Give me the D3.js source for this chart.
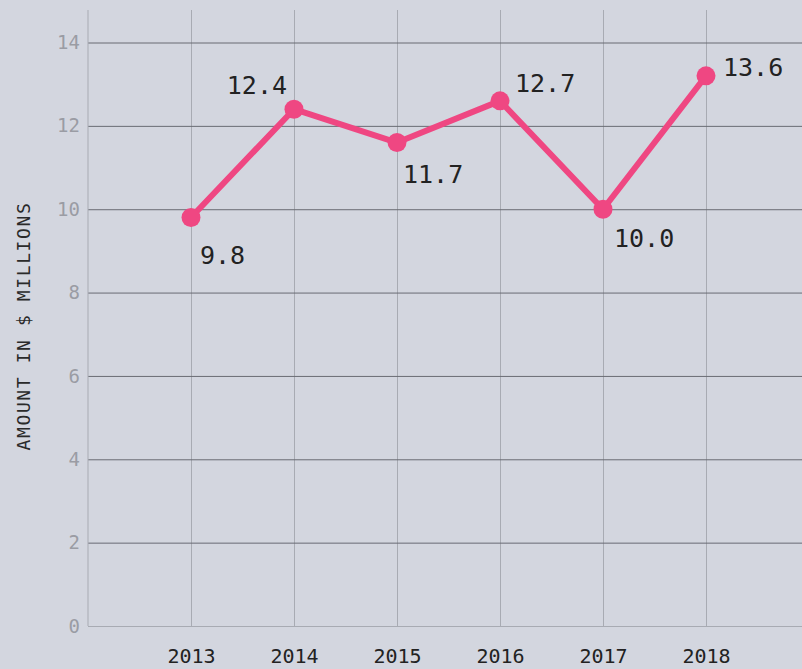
<!DOCTYPE html>
<html>
<head>
<meta charset="utf-8">
<script src="https://cdnjs.cloudflare.com/ajax/libs/d3/7.8.5/d3.min.js"></script>
<style>
  html, body { margin: 0; padding: 0; background: #d3d6df; }
  svg { display: block; font-family: "DejaVu Sans Mono", "Liberation Mono", monospace; }
</style>
</head>
<body>
<div id="vis"></div>
<script>
// chart data
const years = [2013, 2014, 2015, 2016, 2017, 2018];
const amounts = [9.8, 12.4, 11.6, 12.6, 10.0, 13.2];
const valueLabels = ["9.8", "12.4", "11.7", "12.7", "10.0", "13.6"];
const yTicks = [0, 2, 4, 6, 8, 10, 12, 14];
const yTitle = "AMOUNT IN $ MILLIONS";

const width = 802, height = 669;
const plotLeft = 88, plotBottom = 626, plotTop = 10;
const monoFont = "'DejaVu Sans Mono', 'Liberation Mono', monospace";

// where each value label sits relative to its point
const labelPlacement = [
  {dx: 9, dy: 46, anchor: "start"},
  {dx: -7, dy: -15, anchor: "end"},
  {dx: 6, dy: 40, anchor: "start"},
  {dx: 15, dy: -9, anchor: "start"},
  {dx: 11, dy: 38, anchor: "start"},
  {dx: 17, dy: 0, anchor: "start"}
];

const svg = d3.select("#vis")
  .append("svg")
  .attr("width", width)
  .attr("height", height);

const x = d3.scaleLinear().domain([2012, 2019]).range([plotLeft, plotLeft + 7 * 103]);
const y = d3.scaleLinear().domain([0, 14.78]).range([plotBottom, plotTop]);

// vertical grid (x axis)
const xAxis = svg.append("g")
  .attr("transform", `translate(0,${plotBottom})`)
  .call(d3.axisBottom(x).tickValues(years).tickFormat(d3.format("d")).tickSize(-(plotBottom - plotTop)).tickPadding(0));
xAxis.attr("font-family", monoFont);
xAxis.select(".domain").remove();
xAxis.selectAll(".tick line").attr("stroke", "#a8abb3").attr("stroke-width", 1);
xAxis.selectAll(".tick text")
  .attr("y", 37)
  .attr("dy", 0)
  .attr("fill", "#222")
  .style("font-size", "20px");

// horizontal grid (y axis)
const yAxis = svg.append("g")
  .attr("transform", `translate(${plotLeft},0)`)
  .call(d3.axisLeft(y).tickValues(yTicks).tickSize(-(width - plotLeft)).tickPadding(8));
yAxis.attr("font-family", monoFont);
yAxis.select(".domain").remove();
yAxis.selectAll(".tick line")
  .attr("stroke", d => d === 0 ? "#a8abb3" : "#696b73")
  .attr("stroke-width", 1);
yAxis.selectAll(".tick text")
  .attr("fill", "#9a9ca4")
  .style("font-size", "19px");

// left axis line
svg.append("line")
  .attr("x1", plotLeft).attr("x2", plotLeft)
  .attr("y1", plotTop).attr("y2", plotBottom)
  .attr("stroke", "#a8abb3");

// axis title
svg.append("text")
  .attr("transform", `translate(30,${(200 + 452) / 2}) rotate(-90)`)
  .attr("text-anchor", "middle")
  .attr("fill", "#2a2a2a")
  .style("font-size", "18px")
  .style("letter-spacing", "1.6px")
  .text(yTitle);

// line
const line = d3.line()
  .x((d, i) => x(years[i]))
  .y(d => y(d));

svg.append("path")
  .datum(amounts)
  .attr("fill", "none")
  .attr("stroke", "#ef4782")
  .attr("stroke-width", 6)
  .attr("stroke-linejoin", "round")
  .attr("d", line);

svg.selectAll(".dot")
  .data(amounts)
  .enter()
  .append("circle")
  .attr("class", "dot")
  .attr("cx", (d, i) => x(years[i]))
  .attr("cy", d => y(d))
  .attr("r", 9.5)
  .attr("fill", "#ef4782");

svg.selectAll(".value")
  .data(amounts)
  .enter()
  .append("text")
  .attr("class", "value")
  .attr("x", (d, i) => x(years[i]) + labelPlacement[i].dx)
  .attr("y", (d, i) => y(d) + labelPlacement[i].dy)
  .attr("text-anchor", (d, i) => labelPlacement[i].anchor)
  .attr("fill", "#222")
  .style("font-size", "25px")
  .text((d, i) => valueLabels[i]);
</script>
</body>
</html>
